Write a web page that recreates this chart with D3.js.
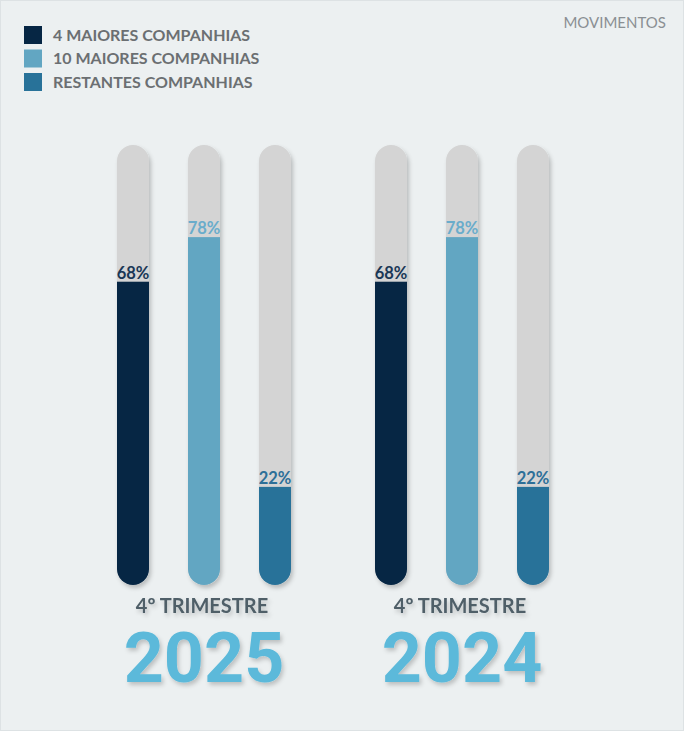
<!DOCTYPE html>
<html>
<head>
<meta charset="utf-8">
<script src="https://cdn.jsdelivr.net/npm/d3@7"></script>
<style>
  html, body { margin: 0; padding: 0; background: #ecf0f1; }
  svg { display: block; }
</style>
</head>
<body>
<svg id="chart" width="684" height="731"></svg>
<script>
// ---- Data ----
const periods = ["2025", "2024"];
const periodLabel = "4º TRIMESTRE";
const seriesNames = ["4 MAIORES COMPANHIAS", "10 MAIORES COMPANHIAS", "RESTANTES COMPANHIAS"];
const values2025 = [68, 78, 22];
const values2024 = [68, 78, 22];
const seriesColors = ["#062644", "#62a6c2", "#287299"];
const labelColors = ["#1a3756", "#6aaccb", "#2d6f98"];
const cornerTitle = "MOVIMENTOS";

const valuesByPeriod = { "2025": values2025, "2024": values2024 };

// ---- Layout ----
const W = 684, H = 731;
const trackTop = 145, trackBottom = 585, barW = 32;
const svg = d3.select("#chart");
const font = "Lato, 'Open Sans', sans-serif";
const yearFont = "Roboto, 'Liberation Sans', sans-serif";

// background + border
svg.append("rect").attr("x", 0.5).attr("y", 0.5).attr("width", W - 1).attr("height", H - 1)
  .attr("fill", "#ecf0f1").attr("stroke", "#dde2e4").attr("stroke-width", 1);

const defs = svg.append("defs");
const f = defs.append("filter").attr("id", "shadow").attr("x", "-50%").attr("y", "-20%")
  .attr("width", "200%").attr("height", "140%");
f.append("feDropShadow").attr("dx", 2).attr("dy", 3).attr("stdDeviation", 2.2)
  .attr("flood-color", "#000").attr("flood-opacity", 0.22);
const tf = defs.append("filter").attr("id", "tshadow").attr("x", "-20%").attr("y", "-20%")
  .attr("width", "140%").attr("height", "150%");
tf.append("feDropShadow").attr("dx", 2).attr("dy", 3).attr("stdDeviation", 2)
  .attr("flood-color", "#000").attr("flood-opacity", 0.2);

// scales
const x0 = d3.scaleBand().domain(periods).range([73, 589]);
const x1 = d3.scalePoint().domain(d3.range(seriesNames.length)).range([-69, 73]);
const y = d3.scaleLinear().domain([0, 100]).range([trackBottom, 139]);

// Legend
const legend = svg.append("g");
seriesNames.forEach((name, i) => {
  const g = legend.append("g").attr("transform", `translate(24, ${26 + i * 23.5})`);
  g.append("rect").attr("width", 18).attr("height", 18).attr("fill", seriesColors[i]);
  g.append("text").attr("x", 29).attr("y", 14.5).text(name)
    .attr("font-family", font).attr("font-weight", 700).attr("font-size", 16)
    .attr("fill", "#6b6f72");
});

svg.append("text").attr("x", 666).attr("y", 28).attr("text-anchor", "end")
  .attr("font-family", font).attr("font-size", 15).attr("fill", "#8a8f93")
  .text(cornerTitle);

// Groups
periods.forEach(p => {
  const cx = x0(p) + x0.bandwidth() / 2;
  const g = svg.append("g").attr("transform", `translate(${cx},0)`);
  valuesByPeriod[p].forEach((v, i) => {
    const bx = x1(i) - barW / 2;
    const clipId = `clip-${p}-${i}`;
    defs.append("clipPath").attr("id", clipId)
      .append("rect").attr("x", cx + bx).attr("y", trackTop).attr("width", barW)
      .attr("height", trackBottom - trackTop).attr("rx", barW / 2).attr("ry", barW / 2);
    const bar = g.append("g").attr("filter", "url(#shadow)");
    bar.append("rect").attr("x", bx).attr("y", trackTop).attr("width", barW)
      .attr("height", trackBottom - trackTop).attr("rx", barW / 2).attr("ry", barW / 2)
      .attr("fill", "#d4d4d4");
    const inner = g.append("g").attr("transform", `translate(${-cx},0)`)
      .attr("clip-path", `url(#${clipId})`);
    inner.append("rect").attr("x", cx + bx).attr("y", y(v)).attr("width", barW)
      .attr("height", trackBottom - y(v)).attr("fill", seriesColors[i]);
    g.append("text").attr("x", x1(i)).attr("y", y(v) - 3).attr("text-anchor", "middle")
      .attr("font-family", font).attr("font-weight", 700).attr("font-size", 16.5)
      .attr("fill", labelColors[i]).text(v + "%");
  });
  g.append("text").attr("x", 0).attr("y", 612.5).attr("text-anchor", "middle")
    .attr("font-family", font).attr("font-weight", 700).attr("font-size", 20)
    .attr("fill", "#4f5f68").attr("filter", "url(#tshadow)").text(periodLabel);
  g.append("text").attr("x", 2).attr("y", 682).attr("text-anchor", "middle")
    .attr("font-family", yearFont).attr("font-weight", 700).attr("font-size", 70)
    .attr("fill", "#5bb9da").attr("filter", "url(#tshadow)").text(p);
});
</script>
</body>
</html>
